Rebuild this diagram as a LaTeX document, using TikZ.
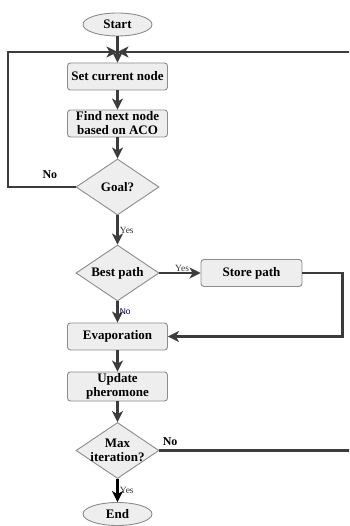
\documentclass[tikz,border=0pt]{standalone}
\usepackage{fontspec}
\setmainfont{Liberation Serif}
\newfontfamily\sanslabel{Liberation Sans}
\usetikzlibrary{positioning, arrows.meta, shapes.geometric}

\definecolor{linegray}{HTML}{3C3C3C}
\definecolor{boxfill}{HTML}{EEEEEE}
\definecolor{boxdraw}{HTML}{8C8C8C}

\begin{document}
\begin{tikzpicture}[x=1pt, y=-1pt, >={Stealth[length=11pt, width=11pt, inset=3pt]},
    box/.style={draw=boxdraw, fill=boxfill, rounded corners=3pt, line width=0.9pt,
        minimum width=100pt, minimum height=27pt, inner sep=1pt, align=center,
        font=\bfseries\fontsize{13}{14}\selectfont},
    decision/.style={diamond, draw=boxdraw, fill=boxfill, line width=0.9pt,
        minimum width=83pt, minimum height=56pt, inner sep=-8pt, align=center,
        font=\bfseries\fontsize{13}{14}\selectfont},
    terminal/.style={ellipse, draw=boxdraw, fill=boxfill, line width=0.9pt,
        minimum width=69pt, minimum height=23pt, inner sep=0pt,
        font=\bfseries\fontsize{13}{14}\selectfont},
    flow/.style={->, draw=linegray, line width=2.7pt},
    tag/.style={font=\fontsize{9.5}{10}\selectfont, text=black!80, inner sep=1pt},
    bigtag/.style={font=\bfseries\fontsize{12}{13}\selectfont, inner sep=1pt}]
    \useasboundingbox (0,0) rectangle (349,526);
    \clip (0,0) rectangle (349,526);
    % Nodes
    \node[terminal] (start) at (117.5,24.5) {Start};
    \coordinate (merge) at (117.5,52);
    \node[box] (setnode) at (117.5,76.5) {Set current node};
    \node[box] (findnode) at (117.5,123.5) {Find next node\\based on ACO};
    \node[decision] (goal) at (117.5,187) {Goal?};
    \node[decision] (best) at (117.5,273) {Best path};
    \node[box, minimum width=101pt] (store) at (251.5,273) {Store path};
    \node[box] (evap) at (117.5,336.5) {Evaporation};
    \node[box, minimum height=29pt] (update) at (117.5,386.5) {Update\\pheromone};
    \node[decision] (maxit) at (117.5,450.5) {Max\\iteration?};
    \node[terminal] (finish) at (117.5,514) {End};
    % Loop corners
    \coordinate (loopL) at (8,52);
    \coordinate (loopR) at (356,52);
    \coordinate (storeR) at (342.5,273);
    % Connectors
    \draw[flow] (start) -- (setnode);
    \draw[flow] (setnode) -- (findnode);
    \draw[flow] (findnode) -- (goal);
    \draw[flow] (goal.west) -| node[bigtag, pos=0.19, above=6pt] {No} (loopL) -- (merge);
    \draw[flow] (goal) -- (best) node[tag, midway, right] {Yes};
    \draw[flow] (best) -- (store) node[tag, pos=0.55, above=-1pt] {Yes};
    \draw[flow] (best) -- (evap)
        node[tag, midway, right, font=\sanslabel\fontsize{8.5}{10}\selectfont, text=black!70!blue] {No};
    \draw[flow] (store.east) -- (storeR) |- (evap.east);
    \draw[flow] (evap) -- (update);
    \draw[flow] (update) -- (maxit);
    \draw[flow] (maxit.east) -| node[bigtag, pos=0, above right=3pt and 1pt] {No} (loopR) -- (merge);
    \draw[flow, draw=black] (maxit) -- (finish) node[tag, midway, right] {Yes};
\end{tikzpicture}
\end{document}
